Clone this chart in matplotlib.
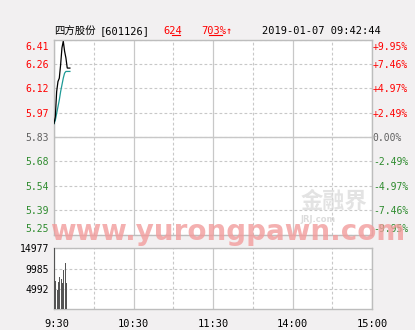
import matplotlib
matplotlib.use('Agg')
import matplotlib.pyplot as plt
from matplotlib.lines import Line2D
import matplotlib.transforms as mtransforms

# ---- data ----
minutes = list(range(13))
price = [5.91, 5.95, 6.10, 6.16, 6.18, 6.26, 6.36, 6.40, 6.34, 6.30, 6.24, 6.24, 6.24]
avg_price = [5.91, 5.93, 5.97, 6.01, 6.05, 6.10, 6.14, 6.18, 6.21, 6.22, 6.22, 6.22, 6.22]
vol_minutes = list(range(10))
volume = [14977, 6950, 4660, 6700, 7930, 7290, 6460, 9740, 11370, 6460]
prev_close = 5.83
price_ticks = [5.25, 5.395, 5.54, 5.685, 5.83, 5.975, 6.12, 6.265, 6.41]
price_labels = ['5.25', '5.39', '5.54', '5.68', '5.83', '5.97', '6.12', '6.26', '6.41']
pct_labels = ['-9.95%', '-7.46%', '-4.97%', '-2.49%', '0.00%', '+2.49%', '+4.97%', '+7.46%', '+9.95%']
vol_ticks = [4992, 9985, 14977]
vol_labels = ['4992', '9985', '14977']
time_ticks = [0, 60, 120, 180, 240]
half_ticks = [30, 90, 150, 210]
time_labels = ['9:30', '10:30', '11:30', '14:00', '15:00']
title_name = '四方股份'
title_code = '[601126]'
title_price = '624'
title_pct = '703%↑'
title_time = '2019-01-07 09:42:44'

W, H = 415, 330
BG = '#F2F0F1'
GRID = '#C8C8C8'
FRAME = '#BDBDBD'
RED = '#FF0000'
GREEN = '#2E8B2E'
GRAY = '#606060'
MONO = 'DejaVu Sans Mono'
FS = 7

fig = plt.figure(figsize=(W / 100, H / 100), dpi=100, facecolor=BG)

def fx(x):
    return x / W

def fy(y):
    return 1 - y / H

# main price axes
ax = fig.add_axes([fx(54), fy(234.5), fx(372) - fx(54), fy(39.5) - fy(234.5)])
ax.set_facecolor('white')
ax.set_xlim(0, 240)
ax.set_ylim(price_ticks[0], price_ticks[-1])
for s in ax.spines.values():
    s.set_color(FRAME)
    s.set_linewidth(1)
ax.set_xticks(time_ticks)
ax.set_xticks(half_ticks, minor=True)
ax.tick_params(axis='x', which='both', length=0, labelbottom=False)
ax.grid(axis='x', which='major', color=GRID, lw=0.9, ls='-')
ax.grid(axis='x', which='minor', color=GRID, lw=0.8, ls=(0, (2.5, 2)))
ax.set_yticks(price_ticks, price_labels)
ax.grid(axis='y', which='major', color=GRID, lw=0.8, ls=(0, (2.5, 2)))
ax.axhline(prev_close, color=GRID, lw=1.0, zorder=1)
ax.tick_params(axis='y', length=0, pad=3.4, labelsize=FS)
for lbl, val in zip(ax.get_yticklabels(), price_ticks):
    lbl.set_fontfamily(MONO)
    lbl.set_color(RED if val > prev_close + 1e-9 else (GREEN if val < prev_close - 1e-9 else GRAY))

ax2 = ax.twinx()
ax2.set_ylim(ax.get_ylim())
ax2.set_yticks(price_ticks, pct_labels)
ax2.tick_params(axis='y', length=0, pad=0.6, labelsize=FS)
for s in ax2.spines.values():
    s.set_visible(False)
for lbl, val in zip(ax2.get_yticklabels(), price_ticks):
    lbl.set_fontfamily(MONO)
    lbl.set_color(RED if val > prev_close + 1e-9 else (GREEN if val < prev_close - 1e-9 else GRAY))

# shift top/bottom labels inward
for a in (ax, ax2):
    labels = a.get_yticklabels()
    labels[-1].set_va('top')
    labels[-1].set_transform(labels[-1].get_transform() +
                             mtransforms.ScaledTranslation(0, -2.2 / 100, fig.dpi_scale_trans))
    labels[0].set_va('bottom')

ax.plot(minutes, price, color='black', lw=0.9, zorder=4, solid_joinstyle='miter')
ax.plot(minutes, avg_price, color='#1E9A96', lw=0.9, zorder=3)

# volume axes
vx = fig.add_axes([fx(54), fy(309), fx(372) - fx(54), fy(248.3) - fy(309)])
vx.set_facecolor('white')
vx.set_xlim(0, 240)
vx.set_ylim(0, vol_ticks[-1])
for s in vx.spines.values():
    s.set_color(FRAME)
    s.set_linewidth(1)
vx.set_xticks(time_ticks, time_labels)
vx.set_xticks(half_ticks, minor=True)
vx.tick_params(axis='x', which='both', length=0, pad=7, labelsize=FS + 0.5)
for lbl in vx.get_xticklabels():
    lbl.set_fontfamily(MONO)
vx.get_xticklabels()[0].set_transform(vx.get_xticklabels()[0].get_transform() +
                                      mtransforms.ScaledTranslation(3 / 100, 0, fig.dpi_scale_trans))
vx.grid(axis='x', which='major', color=GRID, lw=0.9, ls='-')
vx.grid(axis='x', which='minor', color=GRID, lw=0.8, ls=(0, (2.5, 2)))
vx.set_yticks(vol_ticks, vol_labels)
vx.grid(axis='y', color=GRID, lw=0.8, ls=(0, (2.5, 2)))
vx.tick_params(axis='y', length=0, pad=3.4, labelsize=FS)
for lbl in vx.get_yticklabels():
    lbl.set_fontfamily(MONO)
    lbl.set_color('black')
vx.bar(vol_minutes, volume, width=0.8, align='edge', color='#555555', zorder=3)

# title row
ty = 31
fig.text(fx(54), fy(ty), title_name, fontsize=7.5, family=['Noto Sans CJK SC', 'DejaVu Sans'],
         va='center', ha='left', color='black')
fig.text(fx(100), fy(ty), title_code, fontsize=FS + 0.5, family=MONO, va='center', ha='left', color='black')
fig.text(fx(163.5), fy(ty), title_price, fontsize=FS + 0.5, family=MONO, va='center', ha='left', color=RED)
fig.text(fx(201.5), fy(ty), title_pct, fontsize=FS + 0.5, family=MONO, va='center', ha='left', color=RED)
fig.text(fx(261.5), fy(ty), title_time, fontsize=FS + 0.5, family=MONO, va='center', ha='left', color='black')
for x1, x2 in [(171.5, 180), (208.5, 222)]:
    fig.add_artist(Line2D([fx(x1), fx(x2)], [fy(35), fy(35)], color=RED, lw=0.8,
                          transform=fig.transFigure))

# watermarks
fig.text(fx(334), fy(201), '金融界', fontsize=16, family=['Noto Sans CJK SC', 'DejaVu Sans'],
         fontweight='bold', color='#DADADA', alpha=0.75, ha='center', va='center', zorder=10)
fig.text(fx(318), fy(219), 'JRJ.com', fontsize=6, family='DejaVu Sans', fontweight='bold',
         color='#D6D6D6', alpha=0.85, ha='center', va='center', zorder=10)
fig.text(fx(50.5), fy(239.5), 'www.yurongpawn.com', fontsize=20, family='DejaVu Sans',
         fontweight='bold', color='#F29C9C', alpha=0.8, ha='left', va='baseline', zorder=10)

fig.savefig('out.png', dpi=100, facecolor=BG)
